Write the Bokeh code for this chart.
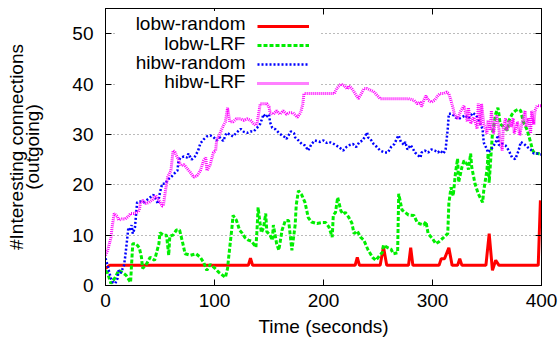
from bokeh.plotting import figure
from bokeh.models import (Range1d, LinearAxis, FixedTicker, Legend, LegendItem,
                          Label, BoxAnnotation, CustomLabelingPolicy)
from bokeh.embed import file_html
from bokeh.resources import INLINE

# ---------------- data ----------------
x_ticks = [0, 100, 200, 300, 400]
y_ticks = [0, 10, 20, 30, 40, 50]
series_names = ["lobw-random", "lobw-LRF", "hibw-random", "hibw-LRF"]

lobw_random_t = [0, 4, 131, 133, 135, 229, 231, 233, 252, 255, 258, 278, 280, 282,
                 306, 308, 311, 315, 318, 323, 325, 327, 349, 352, 355, 358, 361, 397, 399]
lobw_random_v = [3.4, 4, 4, 5.4, 4, 4, 5.6, 4, 4, 7.7, 4, 4, 7.5, 4,
                 4, 5.3, 5.3, 7.5, 4, 4, 5.3, 4, 4, 10.3, 3, 5, 4, 4, 16.9]

lobw_lrf_t = [0, 2, 5, 9, 12, 16, 19, 23, 25, 28, 31, 33, 34, 37, 41, 45, 49, 50, 53, 56,
              58, 59, 62, 65, 68, 71, 73, 78, 83, 87, 90, 93, 96, 100, 104, 110, 112, 113,
              116, 117, 120, 123, 125, 128, 131, 134, 138, 139, 140, 142, 143, 145, 147,
              148, 151, 153, 154, 157, 159, 162, 165, 168, 171, 174, 175, 177, 180, 183,
              186, 189, 194, 199, 202, 205, 208, 209, 211, 213, 216, 218, 220, 223, 226,
              228, 231, 234, 237, 241, 245, 248, 251, 254, 255, 259, 262, 264, 268, 269,
              272, 275, 278, 283, 286, 289, 292, 294, 296, 300, 303, 306, 309, 314, 315,
              317, 319, 321, 323, 324, 327, 329, 332, 333, 335, 336, 339, 342, 346, 347,
              350, 351, 352, 354, 355, 358, 360, 361, 362, 365, 369, 370, 373, 376, 379,
              381, 383, 387, 390, 392, 394, 397, 400]
lobw_lrf_v = [3, 2.4, 0.4, 1.6, 3, 2.5, 2, 0.6, 8.3, 8.3, 7.5, 5.6, 3.4, 4, 5.6, 5, 8.3, 10.5, 10, 10,
              6, 9.8, 10, 11, 11, 8.3, 6.3, 6, 6.3, 5.6, 4.6, 3, 4.2, 3.5, 2.6, 1.6, 3.4, 5.6,
              11.5, 13.9, 13, 11, 10.5, 9.5, 9, 8.8, 7.6, 11, 15.5, 12, 10.5, 11.5, 14.3,
              10.7, 10, 9, 12, 8.3, 7, 11, 12.9, 12.9, 7, 12, 16, 18.8, 18, 16.5,
              13.5, 12.6, 12.3, 12.5, 12.5, 11.6, 9.6, 14, 14.5, 17.5, 14.8, 14.2, 14.5, 13.6, 12.4,
              10.3, 10.8, 9.6, 9, 7, 5.6, 5, 5.8, 6.6, 8, 7.5, 7.2, 6.3, 6.5, 18.2,
              15, 14.5, 14, 13.9, 12.5, 12.2, 12, 12.7, 10.3, 9.3, 8.3, 8.7, 9.3, 10.3, 16.3,
              19.5, 17.8, 22.2, 25.2, 20.5, 23.5, 24.8, 24, 23, 26.2, 23.5, 20.2, 18.2, 16.5, 18.8,
              23, 26.2, 20.4, 27, 30.2, 34.1, 35.3, 34, 32.1, 31.5, 30.8, 32.7, 34, 34.7, 35,
              34.7, 32.7, 30.8, 28.4, 26.8, 26.2, 26.2, 26]

hibw_random_t = [0, 2, 3, 5, 7, 9, 11, 12, 14, 17, 18, 19, 21, 22, 24, 25, 27, 29, 32, 35, 38,
                 41, 44, 47, 48, 50, 52, 55, 57, 60, 63, 66, 67, 69, 72, 75, 76, 79, 82, 85,
                 87, 90, 93, 96, 99, 102, 105, 108, 111, 114, 117, 120, 121, 124, 127, 130,
                 133, 136, 139, 142, 145, 147, 150, 151, 153, 156, 159, 162, 165, 166, 170,
                 173, 174, 177, 180, 183, 186, 189, 192, 197, 200, 203, 205, 208, 211, 214,
                 218, 221, 224, 227, 230, 233, 236, 240, 241, 243, 246, 249, 252, 256, 259,
                 262, 265, 268, 269, 271, 274, 275, 277, 280, 283, 284, 287, 289, 290, 293,
                 296, 299, 302, 305, 307, 310, 312, 314, 315, 318, 321, 324, 327, 330, 333,
                 337, 340, 343, 346, 347, 350, 351, 355, 358, 360, 361, 364, 367, 370, 373,
                 376, 379, 381, 384, 387, 390, 393, 396, 400]
hibw_random_v = [5.4, 4, 3, 1.4, 0.6, 0.4, 1.4, 3, 2.5, 4, 5.6, 7.5, 11.5, 10.8, 12, 10.3, 11.5, 16.5, 16.7, 16.5, 17,
                 17.5, 18, 16.8, 16.2, 18.5, 20.2, 20.2, 21, 21.5, 22.2, 22.8, 24.8, 25.4, 25.6, 25.4, 26.2, 25, 25.6, 26.8,
                 28.2, 29, 29.6, 29.8, 29.5, 28.8, 29.4, 28.7, 30.3, 30, 29.6, 30.3, 30.5, 31.1, 30.5, 30.3,
                 30.6, 30.6, 31.3, 32.1, 34, 33.4, 34, 32.4, 31.3, 31, 30.3, 29.8, 29.4, 29.1, 30.6,
                 30.2, 29.4, 28.8, 28.1, 27.8, 26.8, 28.1, 28.8, 28.5, 28.8, 28.3, 28.5, 28.3, 27.9, 27.5,
                 26.8, 27.5, 27.9, 28.1, 27.5, 28.5, 28.8, 30.4, 29.4, 29.1, 28.1, 27.5, 26.8, 26.4, 26.4,
                 27.5, 28.1, 29.5, 29.8, 28.5, 27.9, 28.5, 27, 27.9, 26.8, 26.4, 25.8, 25.4, 26.4, 26.8,
                 26.4, 27, 26.8, 26.4, 26.8, 26.2, 27, 31.1, 34.1, 34.1, 33.4, 33.1, 33.4, 33.8, 33.1,
                 34.3, 33.8, 32.6, 31, 28.4, 27, 26.4, 27.4, 28.4, 29.8, 27.8, 28.1, 27.8, 26.8, 25.4,
                 25.1, 26.8, 28.5, 28.1, 27.5, 27, 26.2, 26.2, 26]

hibw_lrf_t = [0, 2, 5, 6, 8, 11, 12, 15, 18, 21, 23, 26, 30, 31, 32, 34, 37, 40, 43, 46, 49,
              52, 53, 55, 57, 60, 61, 62, 64, 65, 67, 69, 72, 75, 78, 81, 84, 87, 90, 92, 93,
              96, 99, 101, 102, 105, 108, 110, 112, 114, 117, 120, 124, 127, 130, 133, 136,
              138, 139, 142, 148, 150, 151, 154, 157, 160, 163, 166, 169, 172, 176, 179, 181,
              182, 200, 210, 212, 216, 219, 222, 223, 226, 229, 232, 234, 237, 240, 243, 246,
              249, 252, 260, 270, 278, 283, 286, 289, 290, 292, 294, 296, 299, 302, 305, 307,
              310, 313, 315, 317, 319, 320, 323, 326, 329, 332, 333, 335, 338, 341, 342, 344,
              345, 347, 350, 351, 353, 354, 356, 357, 359, 361, 362, 364, 365, 367, 368, 371,
              372, 374, 375, 378, 380, 382, 385, 386, 388, 390, 391, 393, 394, 396, 400]
hibw_lrf_v = [6, 7, 9.5, 11.5, 14.3, 13.7, 13, 13.2, 13.2, 13.7, 14.3, 14.3, 14.6, 15, 16.3, 16.9, 16.3, 16.5, 17, 17.9, 16.9,
              15.8, 15.8, 18.8, 21.5, 22.8, 24.8, 26.8, 26.4, 25.8, 25, 23.8, 24, 23.2, 22.4, 21.5, 21.8, 22.8, 24.8, 25.4, 22.8,
              24, 26.4, 26.8, 28.8, 30.2, 31.7, 32.5, 35.3, 32.5, 32.5, 33.1, 33.1, 32.8, 33.1, 32.8, 32.1,
              31.8, 32.1, 36.1, 36.1, 35.5, 34.3, 34, 34.7, 34, 34.7, 34, 34.3, 34.3, 33.4, 34.3, 36,
              38.1, 38.1, 38.1, 39.1, 40, 39.7, 39, 39.7, 39.1, 38.1, 37.1, 37.8, 39.1, 39.1, 38.8, 38.5,
              37.8, 37.1, 37.1, 37.1, 37.1, 36.8, 36.1, 36.4, 35.5, 36.8, 37.7, 36.8, 36.4, 36.8, 37.7, 38.1,
              38.1, 38.4, 38.1, 36.7, 35.1, 34.1, 33.1, 34.7, 35.7, 32.5, 35.3, 32.1, 33.4, 31.1, 36.1, 31.8,
              36.1, 32.1, 30.2, 32.8, 30.8, 34.7, 30.2, 31.5, 33.8, 31, 28.8, 26.8, 31.5, 33.2, 30.8, 32.8,
              31.5, 33.2, 30.2, 32.5, 29.8, 32.1, 34.7, 31.5, 33.2, 30.2, 34.7, 32, 34.7, 35.7, 35.7]

# legend text anchor (data units) and key box
legend_text_x = 128.4
legend_text_y = [52.0, 48.0, 44.2, 40.5]

FONT = "Liberation Sans"

p = figure(width=558, height=345, x_range=Range1d(0, 400), y_range=Range1d(0, 55),
           output_backend="svg", toolbar_location=None,
           min_border_left=105, min_border_right=17, min_border_top=8, min_border_bottom=60)
p.background_fill_color = "white"
p.border_fill_color = "white"
p.outline_line_color = "black"
p.outline_line_width = 1

for ax in (p.xaxis[0], p.yaxis[0]):
    ax.major_tick_in = 6
    ax.major_tick_out = 0
    ax.minor_tick_line_color = None
    ax.axis_line_color = "black"
    ax.major_tick_line_color = "black"
    ax.major_label_text_font = FONT
    ax.major_label_text_font_size = "19px"
    ax.major_label_text_color = "black"
    ax.axis_label_text_font = FONT
    ax.axis_label_text_font_size = "19px"
    ax.axis_label_text_font_style = "normal"
    ax.axis_label_text_color = "black"

p.xaxis.ticker = FixedTicker(ticks=x_ticks)
p.yaxis.ticker = FixedTicker(ticks=y_ticks)
p.xaxis.axis_label = "Time (seconds)"
p.yaxis.axis_label = "#Interesting connections\n(outgoing)"
p.xaxis.major_label_standoff = 8
p.yaxis.major_label_standoff = 12
p.xaxis.axis_label_standoff = 6
p.yaxis.axis_label_standoff = 26
p.yaxis.axis_label_text_line_height = 0.8

# mirrored ticks on the top and right border, without labels
no_labels = CustomLabelingPolicy(code="return new Set()")
for loc, tk in (("right", y_ticks), ("above", x_ticks)):
    a = LinearAxis(ticker=FixedTicker(ticks=tk), major_tick_in=6, major_tick_out=0,
                   minor_tick_line_color=None, axis_line_color="black",
                   major_label_policy=no_labels, major_label_text_font_size="1px",
                   major_label_standoff=0)
    p.add_layout(a, loc)

p.xgrid.visible = False
p.ygrid.ticker = FixedTicker(ticks=y_ticks[1:])
p.ygrid.grid_line_color = "#777777"
p.ygrid.grid_line_dash = "1 3"
p.ygrid.grid_line_width = 1

r1 = p.line(lobw_random_t, lobw_random_v, line_color="#ff0000", line_width=3)
r2 = p.line(lobw_lrf_t, lobw_lrf_v, line_color="#00ee00", line_width=3, line_dash="4 2")
r3 = p.line(hibw_random_t, hibw_random_v, line_color="#0000ff", line_width=2.5, line_dash="2 2")
r4 = p.line(hibw_lrf_t, hibw_lrf_v, line_color="#ff00ff", line_width=3, line_dash="1 1")

box = BoxAnnotation(left=9.2, right=197, top=54.5, bottom=38.8, fill_color="white",
                    fill_alpha=1, line_color=None)
p.add_layout(box)

for name, yy in zip(series_names, legend_text_y):
    p.add_layout(Label(x=legend_text_x, y=yy, text=name, text_align="right",
                       text_baseline="middle", text_font=FONT, text_font_size="19px",
                       text_color="black"))

legend = Legend(items=[LegendItem(label=" ", renderers=[r]) for r in (r1, r2, r3, r4)],
                location=(152, 194), glyph_width=52, glyph_height=16, spacing=3,
                label_width=0, label_standoff=0, padding=0, margin=0,
                label_text_font_size="8px", border_line_alpha=0, background_fill_alpha=0)
p.add_layout(legend)

open("out.html", "w").write(file_html(p, INLINE))
